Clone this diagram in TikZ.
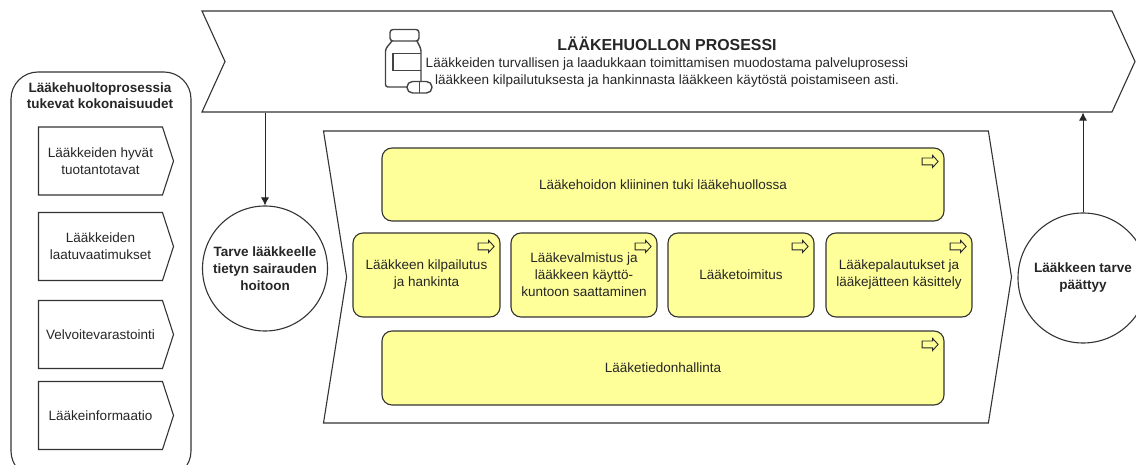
\documentclass[tikz,border=0pt]{standalone}
\usepackage{fontspec}
\setmainfont{Liberation Sans}
\usetikzlibrary{shapes.symbols,shapes.arrows,arrows.meta}
\definecolor{procyellow}{HTML}{FFFF99}
\definecolor{linegray}{HTML}{333333}
\definecolor{icongray}{HTML}{444444}
\tikzset{
    basetext/.style={font=\fontsize{13.5}{17}\selectfont, align=center, text=black!85, inner sep=0pt},
    chevron/.style={basetext, signal, draw=linegray, line width=1.1pt, signal to=east, signal from=west, inner sep=0pt},
    support/.style={basetext, signal, draw=linegray, line width=1.1pt, signal to=east, signal pointer angle=144, minimum width=135pt, minimum height=68pt},
    procbox/.style={basetext, rectangle, rounded corners=10pt, draw=linegray, line width=1.1pt, fill=procyellow},
    statecirc/.style={basetext, circle, draw=linegray, line width=1.1pt, minimum size=125pt, font=\fontsize{13.5}{17}\selectfont\bfseries},
    ministep/.style={single arrow, draw=black!85, fill=procyellow, line width=0.9pt, minimum width=11pt, minimum height=16pt, single arrow head extend=2.5pt, single arrow tip angle=95, inner xsep=0pt, inner ysep=3pt},
    flow/.style={draw=black!85, line width=0.9pt, -{Latex[length=8pt,width=8pt]}},
}
\begin{document}
\begin{tikzpicture}[x=1pt,y=-1pt]
    \useasboundingbox (0,0) rectangle (1136,465);
    \clip (0,0) rectangle (1136,465);

    % top banner
    \node[chevron, signal pointer angle=131, minimum width=933pt, minimum height=101pt] (banner) at (668.5,61.5) {};
    \node[basetext] (bannertext) at (667,62) {{\fontsize{15.9}{17}\selectfont\bfseries LÄÄKEHUOLLON PROSESSI}\\Lääkkeiden turvallisen ja laadukkaan toimittamisen muodostama palveluprosessi\\lääkkeen kilpailutuksesta ja hankinnasta lääkkeen käytöstä poistamiseen asti.};

    % bottle icon
    \draw[icongray, line width=1.4pt, rounded corners=3pt] (390,29.5) rectangle (419,41);
    \draw[icongray, line width=1.4pt, rounded corners=2.5pt] (392,41) -- (385.5,49) -- (385.5,87) -- (407,87);
    \draw[icongray, line width=1.4pt, rounded corners=2.5pt] (417,41) -- (421,49) -- (421,81);
    \draw[icongray, line width=1.4pt] (421,53.5) -- (393,53.5) -- (393,70.5) -- (421,70.5);
    \draw[icongray, line width=1.4pt, rounded corners=5.5pt] (407,81.5) rectangle (432,93);
    \draw[icongray, line width=1.4pt] (419.5,81.5) -- (419.5,93);

    % left container
    \draw[linegray, line width=1.1pt, rounded corners=27pt] (11,72) rectangle (191,478);
    \node[basetext, font=\fontsize{13.5}{16}\selectfont\bfseries] (supporttitle) at (100,96) {Lääkehuoltoprosessia\\tukevat kokonaisuudet};
    \node[support] (gmp) at (100.5,161) {Lääkkeiden hyvät\\tuotantotavat};
    \node[support] (quality) at (100.5,246.5) {Lääkkeiden\\laatuvaatimukset};
    \node[support] (storage) at (100.5,334.5) {Velvoitevarastointi};
    \node[support] (info) at (100.5,415.5) {Lääkeinformaatio};

    % main process
    \node[chevron, signal pointer angle=162, minimum width=688pt, minimum height=292pt] (mainproc) at (667.5,277) {};
    \node[procbox, minimum width=562pt, minimum height=73pt] (clinical) at (663,184.5) {Lääkehoidon kliininen tuki lääkehuollossa};
    \node[procbox, minimum width=147pt, minimum height=84pt] (tender) at (426.5,275) {Lääkkeen kilpailutus\\ja hankinta};
    \node[procbox, minimum width=146pt, minimum height=84pt] (compound) at (584,275) {Lääkevalmistus ja\\lääkkeen käyttö-\\kuntoon saattaminen};
    \node[procbox, minimum width=146pt, minimum height=84pt] (delivery) at (741,275) {Lääketoimitus};
    \node[procbox, minimum width=146pt, minimum height=84pt] (returns) at (899,275) {Lääkepalautukset ja\\lääkejätteen käsittely};
    \node[procbox, minimum width=562pt, minimum height=74pt] (infomgmt) at (663,368) {Lääketiedonhallinta};

    \foreach \b in {clinical,tender,compound,delivery,returns,infomgmt}
        \node[ministep] (\b-sign) at ([xshift=-16pt,yshift=-14pt]\b.north east) {};

    % start and end
    \node[statecirc] (needstart) at (265,268.5) {Tarve lääkkeelle\\tietyn sairauden\\hoitoon};
    \node[statecirc, minimum size=130pt] (needend) at (1083,278) {Lääkkeen tarve\\päättyy};

    \draw[flow] (banner.south -| needstart.north) -- (needstart.north);
    \draw[flow] (needend.north) -- (banner.south -| needend.north);
\end{tikzpicture}
\end{document}
